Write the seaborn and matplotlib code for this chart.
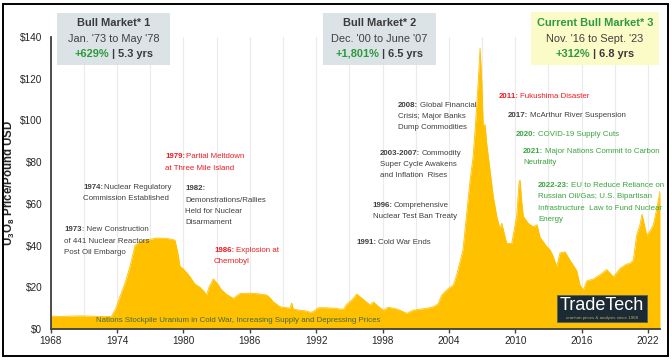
import numpy as np
import pandas as pd
import matplotlib
matplotlib.use("Agg")
import matplotlib.pyplot as plt
import seaborn as sns
from matplotlib import font_manager
from matplotlib.patches import Rectangle
from matplotlib.lines import Line2D

# U3O8 spot price
years = [1968.00, 1968.84, 1970.65, 1972.46, 1973.36, 1973.52, 1973.90, 1974.26, 1974.72, 1975.17,
         1975.44, 1975.62, 1976.07, 1976.98, 1977.58, 1978.33, 1978.97, 1979.24, 1979.51, 1979.69,
         1979.96, 1980.30, 1980.60, 1981.05, 1981.50, 1981.86, 1982.10, 1982.31, 1982.70, 1983.04,
         1983.46, 1983.94, 1984.51, 1984.84, 1985.12, 1986.02, 1986.92, 1987.53, 1987.82, 1988.13,
         1988.73, 1989.18, 1989.63, 1989.79, 1989.94, 1990.54, 1991.15, 1991.45, 1991.72, 1992.20,
         1992.80, 1993.53, 1994.46, 1994.76, 1995.24, 1995.67, 1995.97, 1996.42, 1996.87, 1997.17,
         1997.59, 1998.07, 1998.52, 1999.13, 1999.58, 2000.19, 2000.78, 2001.39, 2002.00, 2002.59,
         2003.02, 2003.35, 2003.81, 2004.10, 2004.40, 2004.71, 2005.00, 2005.28, 2005.46, 2005.91,
         2006.18, 2006.37, 2006.66, 2006.82, 2006.97, 2007.11, 2007.27, 2007.42, 2007.72, 2008.02,
         2008.33, 2008.62, 2008.78, 2009.23, 2009.68, 2010.13, 2010.34, 2010.43, 2010.57, 2010.73,
         2011.18, 2011.63, 2011.97, 2012.24, 2012.85, 2013.15, 2013.42, 2013.75, 2014.05, 2014.50,
         2014.95, 2015.56, 2015.86, 2016.16, 2016.46, 2017.06, 2017.66, 2018.27, 2018.87, 2019.47,
         2020.02, 2020.38, 2020.68, 2020.98, 2021.28, 2021.46, 2021.89, 2022.19, 2022.49, 2022.73,
         2022.94, 2023.09]
price = [6.2, 6.0, 6.3, 6.0, 6.0, 6.3, 10.0, 15.5, 22.0, 30.0,
         36.0, 40.0, 42.0, 43.0, 43.6, 43.5, 43.0, 42.5, 36.0, 30.0,
         29.0, 27.0, 25.0, 21.5, 20.0, 18.0, 16.3, 20.0, 24.0, 22.0,
         18.7, 16.5, 14.7, 16.0, 17.0, 17.2, 16.8, 16.3, 15.0, 13.0,
         10.7, 10.3, 10.0, 12.5, 9.5, 9.0, 8.6, 8.0, 8.3, 10.2,
         10.2, 10.0, 9.4, 11.8, 14.0, 16.8, 15.5, 13.5, 11.5, 13.0,
         11.0, 9.0, 10.4, 9.8, 9.0, 7.5, 9.0, 9.5, 9.9, 10.7,
         12.0, 16.3, 18.7, 20.0, 21.0, 26.0, 32.0, 38.0, 47.5, 71.0,
         82.0, 95.0, 119.0, 134.6, 119.0, 97.0, 98.0, 89.0, 76.0, 63.4,
         54.0, 48.0, 50.7, 41.0, 41.0, 54.0, 70.0, 71.5, 62.0, 54.0,
         50.7, 49.0, 50.0, 44.0, 39.5, 38.0, 35.0, 30.0, 36.5, 37.0,
         33.0, 28.0, 21.0, 18.7, 23.0, 24.0, 26.0, 28.5, 25.0, 29.0,
         31.0, 31.5, 33.0, 45.0, 50.0, 55.0, 45.0, 47.0, 50.0, 56.0,
         62.0, 66.0]

label_years = list(range(1968, 2023, 6))
grid_years = list(range(1971, 2023, 6))
y_ticks = [0, 20, 40, 60, 80, 100, 120, 140]

sns.set_theme(style="white")
names = {f.name for f in font_manager.fontManager.ttflist}
NARROW = "Liberation Sans Narrow" if "Liberation Sans Narrow" in names else "Liberation Sans"
NS = 1.0 if NARROW == "Liberation Sans Narrow" else 0.84
plt.rcParams["font.family"] = ["Liberation Sans", "DejaVu Sans"]
plt.rcParams["mathtext.fontset"] = "custom"
plt.rcParams["mathtext.rm"] = "Liberation Sans"
plt.rcParams["mathtext.bf"] = "Liberation Sans:bold"

DARK = "#404040"
RED = "#ee1c24"
GREEN = "#3aa540"
NUMGREEN = "#2e9a3c"
GOLD = "#ffc000"

W, H = 672, 360
fig = plt.figure(figsize=(6.72, 3.6), dpi=100)
fig.patch.set_facecolor("white")
ax = fig.add_axes([50.7 / W, 1 - 329 / H, (660 - 50.7) / W, (329 - 37) / H])

df = pd.DataFrame({"year": years, "price": price})
ax.fill_between(df["year"], 0, df["price"], color=GOLD, lw=0, zorder=2)
sns.lineplot(data=df, x="year", y="price", color=GOLD, lw=0.6, ax=ax, zorder=2)

ax.set_xlim(1968, 2023.09)
ax.set_ylim(0, 140)
ax.set_xticks(label_years)
ax.set_xticklabels([str(y) for y in label_years])
ax.set_xticks(grid_years, minor=True)
ax.set_yticks(y_ticks)
ax.set_yticklabels([f"\\${v}" for v in y_ticks])
ax.grid(axis="x", which="both", color="#ebebeb", lw=0.8, zorder=0)
ax.grid(axis="y", visible=False)
ax.tick_params(axis="x", which="major", length=3, width=1, color=DARK, pad=2,
               labelsize=7.2, labelcolor="#262626", bottom=True)
ax.tick_params(axis="x", which="minor", length=0)
ax.tick_params(axis="y", length=0, pad=6, labelsize=7.2, labelcolor="#262626")
for s in ["top", "right"]:
    ax.spines[s].set_visible(False)
for s in ["left", "bottom"]:
    ax.spines[s].set_color(DARK)
    ax.spines[s].set_linewidth(1.3)
ax.set_xlabel("")
ax.set_ylabel(r"U$_\mathbf{3}$O$_\mathbf{8}$ Price/Pound USD", fontsize=8.3,
              fontweight="bold", color="#262626")
ax.yaxis.set_label_coords((17 - 50.7) / 609.3, 0.5)

renderer = fig.canvas.get_renderer()


def put(x, y, txt, size, weight="normal", color=DARK, family=None, ha="left"):
    return fig.text(x / W, 1 - y / H, txt, fontsize=size, fontweight=weight, color=color,
                    family=family or NARROW, ha=ha, va="center")


def rich(x, y, parts, size, center=False, family=None, gap=0.0):
    # parts: (text, weight, color); drawn side by side
    items = []
    cur = 0
    for i, (txt, weight, color) in enumerate(parts):
        t = put(x, y, txt, size, weight, color, family)
        w = t.get_window_extent(renderer).width
        items.append((t, cur))
        cur += w + gap
    cur -= gap
    start = x - cur / 2 if center else x
    for t, off in items:
        t.set_x((start + off) / W)
    return start, cur


def note(x, y, head, lines, color, size=6.8 * NS, step=11.2, gap=1.4):
    if lines[0]:
        rich(x, y, [(head, "bold", color), (lines[0], "normal", color)], size, gap=gap)
    else:
        put(x, y, head, size, "bold", color)
    for i, ln in enumerate(lines[1:], 1):
        put(x, y + i * step, ln, size, color=color)


note(165, 157, "1979:", ["Partial Meltdown", "at Three Mile Island"], RED)
note(83, 187, "1974:", ["Nuclear Regulatory", "Commission Established"], DARK)
note(185, 189, "1982:", ["", "Demonstrations/Rallies", "Held for Nuclear", "Disarmament"], DARK)
note(64, 230, "1973", [": New Construction", "of 441 Nuclear Reactors", "Post Oil Embargo"], DARK,
     gap=0.2)
note(214, 250, "1986:", ["Explosion at", "Chernobyl"], RED)
note(398, 105, "2008:", ["Global Financial", "Crisis; Major Banks", "Dump Commodities"], DARK)
note(380, 153, "2003-2007:", ["Commodity", "Super Cycle Awakens", "and Inflation  Rises"], DARK)
note(372.7, 205.7, "1996:", ["Comprehensive", "Nuclear Test Ban Treaty"], DARK)
note(356.7, 242.7, "1991:", ["Cold War Ends"], DARK)
note(499, 96.7, "2011:", ["Fukushima Disaster"], RED)
note(508, 115.7, "2017:", ["McArthur River Suspension"], DARK)
note(516, 134, "2020:", ["COVID-19 Supply Cuts"], GREEN)
note(523, 151.7, "2021:", ["Major Nations Commit to Carbon", "Neutrality"], GREEN)
note(538, 185.7, "2022-23:", ["EU to Reduce Reliance on", "Russian Oil/Gas; U.S. Bipartisan",
                             "Infrastructure  Law to Fund Nuclear", "Energy"], GREEN)
put(96, 320, "Nations Stockpile Uranium in Cold War, Increasing Supply and Depressing Prices",
    6.8 * NS, color="#3f6b3f")

# header boxes
boxes = [
    (57, 13, 170, 65, "#dce3e7", "Bull Market* 1", "#3a3a3a", "Jan. '73 to May '78", "+629%", "| 5.3 yrs"),
    (323, 13, 436, 65, "#dce3e7", "Bull Market* 2", "#3a3a3a", "Dec. '00 to June '07", "+1,801%", "| 6.5 yrs"),
    (531, 12, 659, 65, "#fbfbc8", "Current Bull Market* 3", NUMGREEN, "Nov. '16 to Sept. '23", "+312%", "| 6.8 yrs"),
]
for x0, y0, x1, y1, fc, title, tcol, period, gain, dur in boxes:
    fig.patches.append(Rectangle((x0 / W, 1 - y1 / H), (x1 - x0) / W, (y1 - y0) / H,
                                 transform=fig.transFigure, facecolor=fc, edgecolor="none",
                                 zorder=3))
    cx = (x0 + x1) / 2
    st, wd = rich(cx, 23, [(title, "bold", tcol)], 9.4 * NS, center=True)
    fig.lines.append(Line2D([st / W, (st + wd) / W], [1 - 30.5 / H, 1 - 30.5 / H],
                            transform=fig.transFigure, color=tcol, lw=0.9))
    put(cx, 39, period, 9.4 * NS, color=DARK, ha="center")
    rich(cx, 54, [(gain, "bold", NUMGREEN), (dur, "bold", "#3a3a3a")], 9.4 * NS,
         center=True, gap=3.0)

# logo
fig.patches.append(Rectangle((556.7 / W, 1 - 321.7 / H), 90 / W, 26.7 / H,
                             transform=fig.transFigure, facecolor="#1c2a33",
                             edgecolor="#55606a", lw=0.6, zorder=3))
put(601.7, 305.5, "TradeTech", 13, color="white", family="Liberation Sans", ha="center")
put(601.7, 317.6, "uranium prices & analysis since 1968", 3.2, color="#b5b060",
    family="Liberation Sans", ha="center")

# outer frame
fig.patches.append(Rectangle((3 / W, 4 / H), 665 / W, 352 / H, transform=fig.transFigure,
                             fill=False, edgecolor="black", lw=1.4, zorder=5))

fig.savefig("out.png", dpi=100)
